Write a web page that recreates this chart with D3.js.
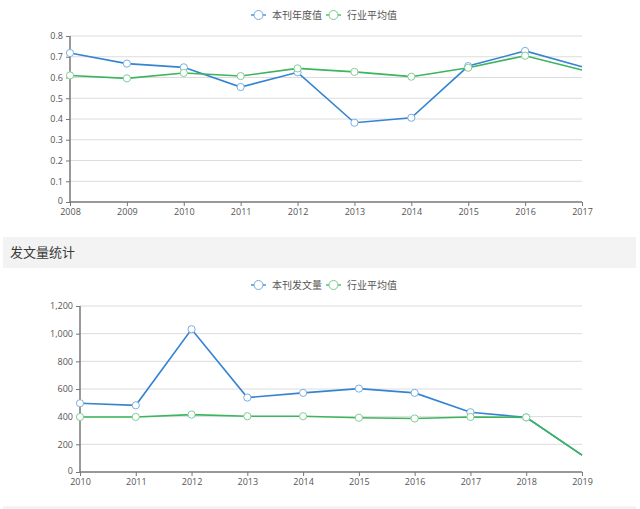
<!DOCTYPE html>
<html><head><meta charset="utf-8">
<script src="https://cdn.jsdelivr.net/npm/d3@7"></script>
<style>
body{margin:0;background:#fff;font-family:"Microsoft YaHei","Noto Sans CJK SC",sans-serif;}
</style></head>
<body><svg id="c" width="640" height="509"></svg>
<script>
const years1 = ["2008","2009","2010","2011","2012","2013","2014","2015","2016","2017"];
const journal1 = [0.718,0.667,0.649,0.554,0.625,0.382,0.406,0.655,0.728,0.652];
const industry1 = [0.610,0.596,0.622,0.607,0.644,0.627,0.604,0.647,0.705,0.636];
const yTicks1 = [0,0.1,0.2,0.3,0.4,0.5,0.6,0.7,0.8];
const legend1 = ["本刊年度值","行业平均值"];

const years2 = ["2010","2011","2012","2013","2014","2015","2016","2017","2018","2019"];
const journal2 = [497,482,1032,538,572,603,572,432,395,122];
const industry2 = [398,398,415,403,403,392,387,398,395,122];
const yTicks2 = [0,200,400,600,800,1000,1200];
const legend2 = ["本刊发文量","行业平均值"];
const sectionTitle = "发文量统计";

const BLUE = "#3584d2", GREEN = "#3cb55c";
const svg = d3.select("#c");

// section header band
svg.append("rect").attr("x",3).attr("y",237).attr("width",633).attr("height",31).attr("fill","#f3f3f3");
svg.append("text").attr("x",10).attr("y",257).attr("font-size",13).attr("fill","#3a3a3a").text(sectionTitle);
svg.append("rect").attr("x",3).attr("y",506).attr("width",633).attr("height",3).attr("fill","#f3f3f3");

function chart(opt){
  const g = svg.append("g");
  const x = d3.scalePoint().domain(opt.cats).range([opt.left,opt.right]);
  const y = d3.scaleLinear().domain([0,opt.max]).range([opt.bottom,opt.top]);
  // grid
  g.selectAll(".grid").data(opt.ticks.filter(t=>t>0)).enter().append("line")
    .attr("x1",opt.left).attr("x2",opt.right).attr("y1",d=>y(d)).attr("y2",d=>y(d))
    .attr("stroke","#dcdcdc").attr("stroke-width",1);
  // y axis
  const ya = g.append("g").attr("transform",`translate(${opt.left},0)`)
    .call(d3.axisLeft(y).tickValues(opt.ticks).tickSize(4).tickPadding(3).tickFormat(opt.fmt));
  ya.select(".domain").attr("stroke","#777").attr("stroke-width",1.5).attr("d",`M-0,${opt.bottom}V${opt.top}`);
  ya.selectAll(".tick line").attr("stroke","#777");
  ya.selectAll("text").attr("fill","#555").attr("font-size",9).attr("font-family","'Open Sans',sans-serif");
  ya.selectAll(".tick").filter(d=>d===0).select("text").attr("dy","0.2em");
  // x axis
  const xa = g.append("g").attr("transform",`translate(0,${opt.bottom})`)
    .call(d3.axisBottom(x).tickSize(4).tickPadding(3));
  xa.select(".domain").attr("stroke","#777").attr("stroke-width",1.5).attr("d",`M${opt.left},0H${opt.right}`);
  xa.selectAll(".tick line").attr("stroke","#777");
  xa.selectAll("text").attr("fill","#555").attr("font-size",9).attr("font-family","'Open Sans',sans-serif");
  // lines
  const series = [{v:opt.s1,c:BLUE},{v:opt.s2,c:GREEN}];
  const line = d3.line().x((d,i)=>x(opt.cats[i])).y(d=>y(d));
  series.forEach(s=>{
    g.append("path").attr("d",line(s.v)).attr("fill","none").attr("stroke",s.c).attr("stroke-width",1.6);
  });
  series.forEach((s,si)=>{
    g.selectAll(".m"+si).data(s.v).enter().append("circle")
      .filter((d,i)=>i!==s.v.length-1)
      .attr("cx",(d,i)=>x(opt.cats[i])).attr("cy",d=>y(d)).attr("r",3.6)
      .attr("fill","#fff").attr("stroke",d3.interpolateRgb(s.c,"#fff")(0.35)).attr("stroke-width",1);
  });
  // legend
  const lg = g.append("g");
  opt.legend.forEach((t,i)=>{
    const lx = opt.legX[i], ly = opt.legY;
    const c = series[i].c;
    lg.append("line").attr("x1",lx).attr("x2",lx+15).attr("y1",ly).attr("y2",ly).attr("stroke",c).attr("stroke-width",1.3);
    lg.append("circle").attr("cx",lx+7.5).attr("cy",ly).attr("r",4.5).attr("fill","#fff").attr("stroke",d3.interpolateRgb(c,"#fff")(0.3)).attr("stroke-width",1);
    lg.append("text").attr("x",lx+21).attr("y",ly+4).attr("font-size",10).attr("fill","#555").text(t);
  });
}

chart({cats:years1,s1:journal1,s2:industry1,ticks:yTicks1,max:0.8,left:70,right:582,top:36,bottom:202,
  fmt:d3.format(""),legend:legend1,legX:[251,326],legY:15});
chart({cats:years2,s1:journal2,s2:industry2,ticks:yTicks2,max:1200,left:80,right:582,top:306,bottom:472,
  fmt:d3.format(","),legend:legend2,legX:[251,326],legY:285});
</script></body></html>
